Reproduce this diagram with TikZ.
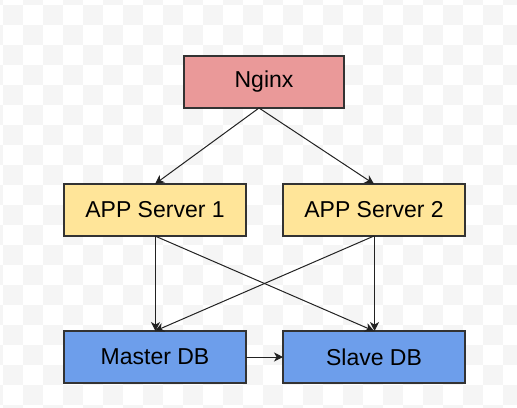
\documentclass[tikz,border=0pt]{standalone}
\usepackage{fontspec}
\setmainfont{Liberation Sans}
\newcommand*{\boxfont}{\fontsize{11.5}{13}\selectfont}
\definecolor{N}{HTML}{EA9999}
\definecolor{A}{HTML}{FFE599}
\definecolor{D}{HTML}{6D9EEB}
\definecolor{edge}{HTML}{333333}
\definecolor{wire}{HTML}{222222}
\definecolor{check}{HTML}{F5F5F5}
\usetikzlibrary{arrows.meta}
\tikzstyle{base}=[x=0.5pt, y=-0.5pt, inner sep=0pt, outer sep=0pt]
\tikzstyle{box}=[draw=edge, line width=0.65pt, minimum height=26pt, font=\boxfont]
\tikzstyle{link}=[wire, line width=0.5pt, -{Stealth[length=4.5pt,width=4.5pt,inset=1.3pt]}]

\begin{document}
\begin{tikzpicture}[base]
    \path [use as bounding box] (0,0) rectangle (517,407);
    % checker background
    \begin{scope}
        \clip (0,0) rectangle (517,407);
        \foreach \i in {0,2,...,24}
            \foreach \j in {0,2,...,20}
                \fill [check] (3+20*\i,5+20*\j) rectangle +(20,20);
        \foreach \i in {-1,1,...,25}
            \foreach \j in {-1,1,...,19}
                \fill [check] (3+20*\i,5+20*\j) rectangle +(20,20);
    \end{scope}
    % boxes
    \node [box, fill=N, minimum width=80pt] (nginx) at (264,82) {Nginx};
    \node [box, fill=A, minimum width=91pt] (app1) at (155,210) {APP Server 1};
    \node [box, fill=A, minimum width=91pt] (app2) at (374,210) {APP Server 2};
    \node [box, fill=D, minimum width=91pt] (master) at (155,357) {Master DB};
    \node [box, fill=D, minimum width=91pt] (slave) at (374,357) {Slave DB};
    \coordinate (fork) at ([xshift=-2.5pt]nginx.south);
    % links
    \draw [link] (fork) -- (app1.north);
    \draw [link] (fork) -- (app2.north);
    \draw [link] ([xshift=0.25pt]app1.south) -- ([xshift=0.25pt]master.north);
    \draw [link] (app1.south) -- (slave.north);
    \draw [link] (app2.south) -- (master.north);
    \draw [link] ([xshift=0.25pt]app2.south) -- ([xshift=0.25pt]slave.north);
    \draw [link] (master.east) -- (slave.west);
\end{tikzpicture}
\end{document}
